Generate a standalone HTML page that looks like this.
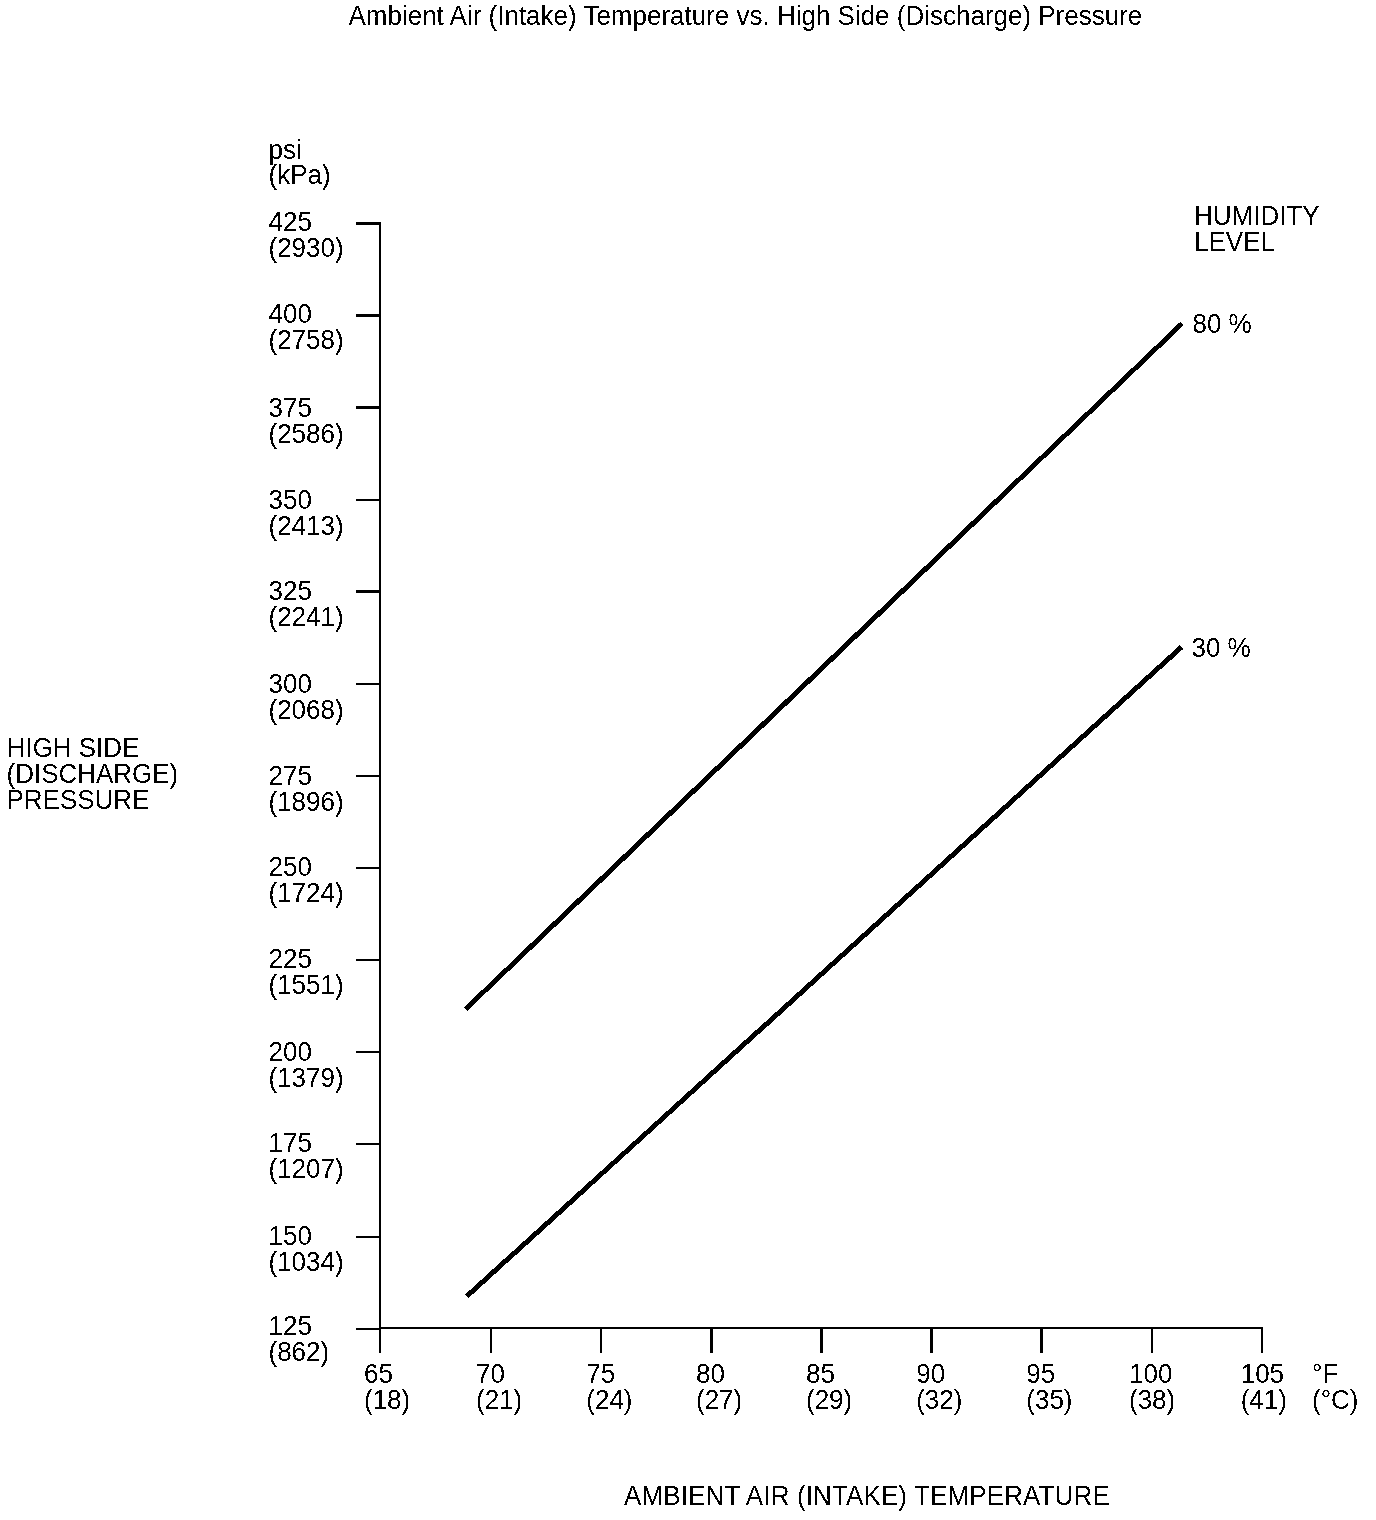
<!DOCTYPE html>
<html><head><meta charset="utf-8"><title>Ambient Air (Intake) Temperature vs. High Side (Discharge) Pressure</title>
<style>html,body{margin:0;padding:0;background:#fff;width:1376px;height:1520px;overflow:hidden}svg{display:block}text{white-space:pre}</style>
</head><body>
<svg width="1376" height="1520" viewBox="0 0 1376 1520">
<defs><filter id="bin" x="0" y="0" width="100%" height="100%" filterUnits="userSpaceOnUse" color-interpolation-filters="sRGB"><feComponentTransfer><feFuncA type="discrete" tableValues="0 1"/></feComponentTransfer></filter></defs>
<rect width="1376" height="1520" fill="#fff"/>
<g fill="#000" shape-rendering="crispEdges">
<rect x="379" y="222" width="2" height="1131"/>
<rect x="379" y="1327" width="884" height="2"/>
<rect x="356" y="222" width="24" height="3"/>
<rect x="356" y="314" width="24" height="3"/>
<rect x="356" y="406" width="24" height="3"/>
<rect x="356" y="499" width="24" height="2"/>
<rect x="356" y="590" width="24" height="3"/>
<rect x="356" y="683" width="24" height="2"/>
<rect x="356" y="775" width="24" height="2"/>
<rect x="356" y="867" width="24" height="2"/>
<rect x="356" y="959" width="24" height="2"/>
<rect x="356" y="1051" width="24" height="2"/>
<rect x="356" y="1143" width="24" height="2"/>
<rect x="356" y="1236" width="24" height="2"/>
<rect x="356" y="1328" width="24" height="2"/>
<rect x="379" y="1327" width="2" height="26"/>
<rect x="490" y="1327" width="2" height="26"/>
<rect x="600" y="1327" width="2" height="26"/>
<rect x="710" y="1327" width="3" height="26"/>
<rect x="820" y="1327" width="3" height="26"/>
<rect x="930" y="1327" width="3" height="26"/>
<rect x="1040" y="1327" width="3" height="26"/>
<rect x="1151" y="1327" width="2" height="26"/>
<rect x="1261" y="1327" width="2" height="26"/>
</g>
<g stroke="#000" stroke-width="5" stroke-linecap="butt" filter="url(#bin)">
<line x1="465.7" y1="1009" x2="1181.8" y2="323.7"/>
<line x1="466.7" y1="1296.3" x2="1181.7" y2="646.8"/>
</g>
<g fill="#000" style="font-family:'Liberation Sans',Arial,Helvetica,sans-serif;font-size:26px;" filter="url(#bin)">
<text x="348.5" y="25" transform="matrix(1 0 0 1.03 0 -0.75)">Ambient Air (Intake) Temperature vs. High Side (Discharge) Pressure</text>
<text x="268.5" y="159" transform="matrix(1 0 0 1.03 0 -4.77)">psi</text>
<text x="268.5" y="184" transform="matrix(1 0 0 1.03 0 -5.52)">(kPa)</text>
<text x="268.5" y="231" transform="matrix(1 0 0 1.03 0 -6.93)">425</text>
<text x="268.5" y="257" transform="matrix(1 0 0 1.03 0 -7.71)">(2930)</text>
<text x="268.5" y="323" transform="matrix(1 0 0 1.03 0 -9.69)">400</text>
<text x="268.5" y="349" transform="matrix(1 0 0 1.03 0 -10.47)">(2758)</text>
<text x="268.5" y="417" transform="matrix(1 0 0 1.03 0 -12.51)">375</text>
<text x="268.5" y="443" transform="matrix(1 0 0 1.03 0 -13.29)">(2586)</text>
<text x="268.5" y="509" transform="matrix(1 0 0 1.03 0 -15.27)">350</text>
<text x="268.5" y="535" transform="matrix(1 0 0 1.03 0 -16.05)">(2413)</text>
<text x="268.5" y="600" transform="matrix(1 0 0 1.03 0 -18.0)">325</text>
<text x="268.5" y="626" transform="matrix(1 0 0 1.03 0 -18.78)">(2241)</text>
<text x="268.5" y="693" transform="matrix(1 0 0 1.03 0 -20.79)">300</text>
<text x="268.5" y="719" transform="matrix(1 0 0 1.03 0 -21.57)">(2068)</text>
<text x="268.5" y="785" transform="matrix(1 0 0 1.03 0 -23.55)">275</text>
<text x="268.5" y="811" transform="matrix(1 0 0 1.03 0 -24.33)">(1896)</text>
<text x="268.5" y="876" transform="matrix(1 0 0 1.03 0 -26.28)">250</text>
<text x="268.5" y="902" transform="matrix(1 0 0 1.03 0 -27.06)">(1724)</text>
<text x="268.5" y="968" transform="matrix(1 0 0 1.03 0 -29.04)">225</text>
<text x="268.5" y="994" transform="matrix(1 0 0 1.03 0 -29.82)">(1551)</text>
<text x="268.5" y="1061" transform="matrix(1 0 0 1.03 0 -31.83)">200</text>
<text x="268.5" y="1087" transform="matrix(1 0 0 1.03 0 -32.61)">(1379)</text>
<text x="268.5" y="1152" transform="matrix(1 0 0 1.03 0 -34.56)">175</text>
<text x="268.5" y="1178" transform="matrix(1 0 0 1.03 0 -35.34)">(1207)</text>
<text x="268.5" y="1245" transform="matrix(1 0 0 1.03 0 -37.35)">150</text>
<text x="268.5" y="1271" transform="matrix(1 0 0 1.03 0 -38.13)">(1034)</text>
<text x="268.5" y="1335" transform="matrix(1 0 0 1.03 0 -40.05)">125</text>
<text x="268.5" y="1361" transform="matrix(1 0 0 1.03 0 -40.83)">(862)</text>
<text x="6.5" y="757" transform="matrix(1 0 0 1.03 0 -22.71)">HIGH SIDE</text>
<text x="6.5" y="783" transform="matrix(1 0 0 1.03 0 -23.49)">(DISCHARGE)</text>
<text x="6.5" y="809" transform="matrix(1 0 0 1.03 0 -24.27)">PRESSURE</text>
<text x="1194" y="225" transform="matrix(1 0 0 1.03 0 -6.75)">HUMIDITY</text>
<text x="1194" y="251" transform="matrix(1 0 0 1.03 0 -7.53)">LEVEL</text>
<text x="1192.5" y="333" transform="matrix(1 0 0 1.03 0 -9.99)">80 %</text>
<text x="1191.5" y="657" transform="matrix(1 0 0 1.03 0 -19.71)">30 %</text>
<text x="364" y="1383" transform="matrix(1 0 0 1.03 0 -41.49)">65</text>
<text x="364" y="1409" transform="matrix(1 0 0 1.03 0 -42.27)">(18)</text>
<text x="476" y="1383" transform="matrix(1 0 0 1.03 0 -41.49)">70</text>
<text x="476" y="1409" transform="matrix(1 0 0 1.03 0 -42.27)">(21)</text>
<text x="586.3" y="1383" transform="matrix(1 0 0 1.03 0 -41.49)">75</text>
<text x="586.3" y="1409" transform="matrix(1 0 0 1.03 0 -42.27)">(24)</text>
<text x="696" y="1383" transform="matrix(1 0 0 1.03 0 -41.49)">80</text>
<text x="696" y="1409" transform="matrix(1 0 0 1.03 0 -42.27)">(27)</text>
<text x="806" y="1383" transform="matrix(1 0 0 1.03 0 -41.49)">85</text>
<text x="806" y="1409" transform="matrix(1 0 0 1.03 0 -42.27)">(29)</text>
<text x="916.2" y="1383" transform="matrix(1 0 0 1.03 0 -41.49)">90</text>
<text x="916.2" y="1409" transform="matrix(1 0 0 1.03 0 -42.27)">(32)</text>
<text x="1026.3" y="1383" transform="matrix(1 0 0 1.03 0 -41.49)">95</text>
<text x="1026.3" y="1409" transform="matrix(1 0 0 1.03 0 -42.27)">(35)</text>
<text x="1129" y="1383" transform="matrix(1 0 0 1.03 0 -41.49)">100</text>
<text x="1129" y="1409" transform="matrix(1 0 0 1.03 0 -42.27)">(38)</text>
<text x="1240.7" y="1383" transform="matrix(1 0 0 1.03 0 -41.49)">105</text>
<text x="1240.7" y="1409" transform="matrix(1 0 0 1.03 0 -42.27)">(41)</text>
<text x="1312" y="1383" transform="matrix(1 0 0 1.03 0 -41.49)">°F</text>
<text x="1312" y="1409" transform="matrix(1 0 0 1.03 0 -42.27)">(°C)</text>
<text x="624" y="1505" transform="matrix(1 0 0 1.03 0 -45.15)" letter-spacing="0.13">AMBIENT AIR (INTAKE) TEMPERATURE</text>
</g>
</svg>
</body></html>
